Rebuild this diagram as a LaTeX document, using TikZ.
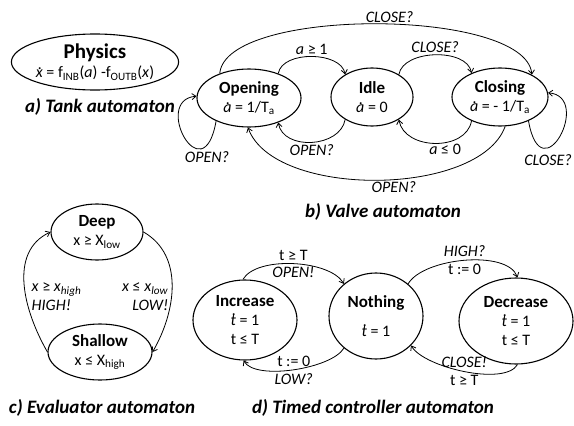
\documentclass[tikz,border=0pt]{standalone}
\usepackage{fontspec}
\setmainfont{Carlito}
\usetikzlibrary{arrows.meta}
\usetikzlibrary{shapes.geometric}
\tikzset{
  state/.style={draw, ellipse, line width=1.1pt, inner sep=0pt, align=center},
  trans/.style={line width=0.8pt, -{Straight Barb[length=4pt,width=6pt]}},
  lbl/.style={inner sep=1.5pt},
  tlbl/.style={inner sep=3pt},
  caption/.style={font=\fontsize{19}{21}\selectfont\bfseries\itshape}
}
\newcommand{\sname}[1]{{\fontsize{17}{19}\selectfont\bfseries #1}}
\newcommand{\dt}[2][0.5em]{\ooalign{#2\cr\hidewidth\kern0.1em\raisebox{#1}{.}\hidewidth\cr}}

\begin{document}
\begin{tikzpicture}[x=1pt, y=1pt, font=\fontsize{16}{19}\selectfont]
    \useasboundingbox (0,0) rectangle (574,-426);

    \node[state, minimum width=162pt, minimum height=56pt] (physics) at (95,-62)
      {{\fontsize{21}{22}\selectfont\bfseries Physics}\\ \textit{\dt{x}} = f\textsubscript{INB}(\textit{a}) -f\textsubscript{OUTB}(\textit{x})};
    \node[caption] (capa) at (100,-107) {a) Tank automaton};

    \node[state, minimum width=104pt, minimum height=58pt] (opening) at (249,-98)
      {\sname{Opening}\\ \textit{\dt{a}} = 1/T\textsubscript{a}};
    \node[state, minimum width=82pt, minimum height=58pt] (idle) at (372,-97)
      {\sname{Idle}\\ \textit{\dt{a}} = 0};
    \node[state, minimum width=96pt, minimum height=58pt] (closing) at (500,-97)
      {\sname{Closing}\\ \textit{\dt{a}} = - 1/T\textsubscript{a}};
    \node[caption] (capb) at (383,-212) {b) Valve automaton};

    \draw[trans] (opening.40) to[out=80,in=100,looseness=0.9] node[lbl, above] {\textit{a} ≥ 1} (idle.140);
    \draw[trans] (idle.40) to[out=80,in=100,looseness=0.9] node[lbl, above] {\textit{CLOSE?}} (closing.140);
    \draw[trans] (opening.140) to[out=85,in=95,looseness=0.55] node[lbl, above, pos=0.53] {\textit{CLOSE?}} (closing.35);
    \draw[trans] (idle.220) to[out=260,in=280,looseness=1.1] node[lbl, below] {\textit{OPEN?}} (opening.320);
    \draw[trans] (closing.220) to[out=260,in=280,looseness=1.1] node[lbl, below, pos=0.4] {\textit{a} ≤ 0} (idle.320);
    \draw[trans] (closing.280) to[out=250,in=290,looseness=0.75] node[lbl, below, pos=0.45] {\textit{OPEN?}} (opening.268);
    \draw[trans] (opening.215) .. controls +(260:75) and +(185:45) .. (opening.178);
    \draw[trans] (closing.320) .. controls +(280:75) and +(355:45) .. (closing.5);
    \node[lbl] (openloop) at (207,-157) {\textit{OPEN?}};
    \node[lbl] (closeloop) at (548,-160) {\textit{CLOSE?}};

    \node[state, minimum width=92pt, minimum height=56pt] (deep) at (97,-232)
      {\sname{Deep}\\ x ≥ X\textsubscript{low}};
    \node[state, minimum width=104pt, minimum height=56pt] (shallow) at (100,-352)
      {\sname{Shallow}\\ x ≤ X\textsubscript{high}};
    \node[caption] (capc) at (102,-408) {c) Evaluator automaton};

    \draw[trans] (shallow.west) to[out=120,in=205] (deep.west);
    \draw[trans] (deep.east) to[out=330,in=60] (shallow.east);
    \node[lbl, anchor=west, align=left] (hightxt) at (30,-297)
      {\textit{x} ≥ \textit{x}\textsubscript{\textit{high}}\\ \textit{HIGH!}};
    \node[lbl, anchor=east, align=right] (lowtxt) at (170,-297)
      {\textit{x} ≤ \textit{x}\textsubscript{\textit{low}}\\ \textit{LOW!}};

    \node[state, minimum width=104pt, minimum height=80pt] (increase) at (245,-320)
      {\sname{Increase}\\ \textit{\dt[0.62em]{t}} = 1\\ t ≤ T};
    \node[state, minimum width=94pt, minimum height=86pt] (nothing) at (376,-316)
      {\sname{Nothing}\\[10pt] \textit{\dt[0.62em]{t}} = 1};
    \node[state, minimum width=114pt, minimum height=86pt] (decrease) at (516,-321)
      {\sname{Decrease}\\ \textit{\dt[0.62em]{t}} = 1\\ t ≤ T};
    \node[caption] (capd) at (373,-408) {d) Timed controller automaton};

    \draw[trans] (increase.93) to[out=60,in=120,looseness=0.7] node[tlbl, above] {t ≥ T} node[tlbl, below] {\textit{OPEN!}} (nothing.135);
    \draw[trans] (nothing.45) to[out=60,in=110,looseness=0.7] node[tlbl, above] {\textit{HIGH?}} node[tlbl, below] {t := 0} (decrease.88);
    \draw[trans] (nothing.225) to[out=240,in=300,looseness=0.6] node[tlbl, above] {t := 0} node[tlbl, below] {\textit{LOW?}} (increase.268);
    \draw[trans] (decrease.272) to[out=240,in=300,looseness=0.6] node[tlbl, above] {\textit{CLOSE!}} node[tlbl, below] {t ≥ T} (nothing.320);
\end{tikzpicture}
\end{document}
